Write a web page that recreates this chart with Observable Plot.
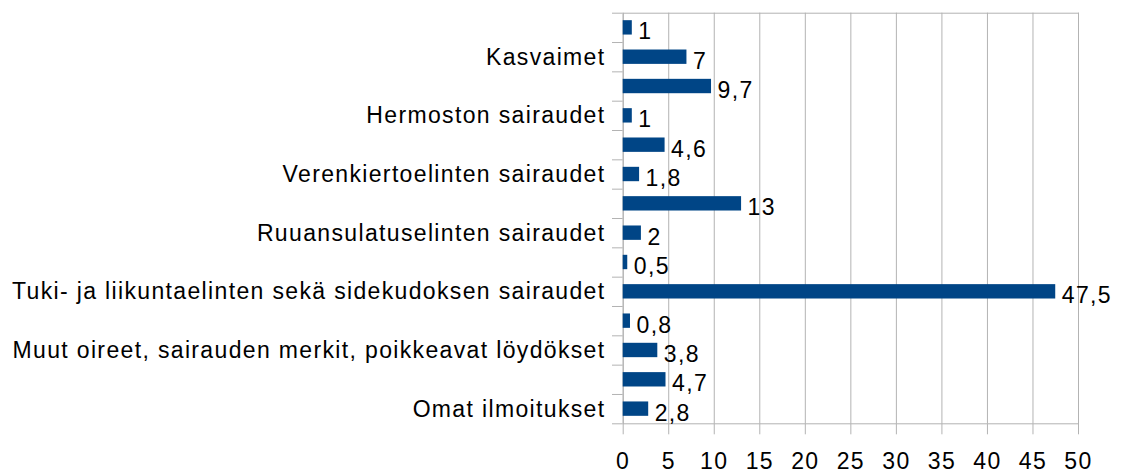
<!DOCTYPE html>
<html>
<head>
<meta charset="utf-8">
<script src="https://cdn.jsdelivr.net/npm/d3@7"></script>
<script src="https://cdn.jsdelivr.net/npm/@observablehq/plot@0.6"></script>
<style>
  html, body { margin: 0; padding: 0; background: #fff; }
</style>
</head>
<body>
<div id="chart"></div>
<script>
// Categories from top to bottom (only every other label is shown in the reference)
const categories = [
  "Tartuntataudit",
  "Kasvaimet",
  "Mielenterveyden häiriöt",
  "Hermoston sairaudet",
  "Silmän ja korvan sairaudet",
  "Verenkiertoelinten sairaudet",
  "Hengityselinten sairaudet",
  "Ruuansulatuselinten sairaudet",
  "Ihon sairaudet",
  "Tuki- ja liikuntaelinten sekä sidekudoksen sairaudet",
  "Virtsa- ja sukupuolielinten sairaudet",
  "Muut oireet, sairauden merkit, poikkeavat löydökset",
  "Vammat ja myrkytykset",
  "Omat ilmoitukset"
];
const values = [1, 7, 9.7, 1, 4.6, 1.8, 13, 2, 0.5, 47.5, 0.8, 3.8, 4.7, 2.8];
const shownLabels = [
  "Kasvaimet",
  "Hermoston sairaudet",
  "Verenkiertoelinten sairaudet",
  "Ruuansulatuselinten sairaudet",
  "Tuki- ja liikuntaelinten sekä sidekudoksen sairaudet",
  "Muut oireet, sairauden merkit, poikkeavat löydökset",
  "Omat ilmoitukset"
];
const xTicks = [0, 5, 10, 15, 20, 25, 30, 35, 40, 45, 50];

const rows = categories.map((c, i) => ({i, category: c, value: values[i]}));
const rowIndex = d3.range(categories.length);
const boundaries = d3.range(-0.5, categories.length, 1);
const fmt = v => String(v).replace(".", ",");
const gray = "#b3b3b3";

const chart = Plot.plot({
  width: 1121,
  height: 473,
  marginLeft: 622.7,
  marginRight: 43,
  marginTop: 12.7,
  marginBottom: 49.7,
  style: {fontFamily: "'Liberation Sans', Arial, sans-serif", letterSpacing: "1.35px", background: "#fff"},
  x: {domain: [0, 50], label: null},
  y: {type: "linear", domain: [-0.5, categories.length - 0.5], reverse: true, label: null},
  marks: [
    Plot.gridX(xTicks, {stroke: gray, strokeOpacity: 1}),
    Plot.frame({stroke: gray}),
    Plot.axisY(boundaries, {tickSize: 10.7, tickFormat: () => "", stroke: gray, strokeOpacity: 1, label: null}),
    Plot.axisY(rowIndex, {
      tickSize: 0, tickPadding: 17.7, fontSize: 23, fill: "#000", label: null,
      tickFormat: i => shownLabels.includes(categories[i]) ? categories[i] : ""
    }),
    Plot.axisX(xTicks, {tickSize: 11, tickPadding: 18.2, fontSize: 23, stroke: gray, strokeOpacity: 1, fill: "#000", label: null, tickFormat: d => String(d)}),
    Plot.rectX(rows, {x1: 0, x2: "value", y1: d => d.i - 0.245, y2: d => d.i + 0.245, fill: "#004586"}),
    Plot.text(rows, {x: "value", y: "i", text: d => fmt(d.value), dx: 6, dy: 4, textAnchor: "start", fontSize: 23, fill: "#000"})
  ]
});
document.getElementById("chart").appendChild(chart);
</script>
</body>
</html>
